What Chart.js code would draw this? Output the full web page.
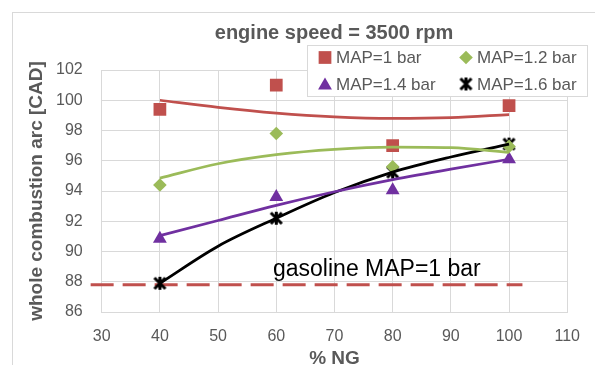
<!DOCTYPE html>
<html>
<head>
<meta charset="utf-8">
<script src="https://cdn.jsdelivr.net/npm/chart.js@4/dist/chart.umd.min.js"></script>
<style>
    html, body { margin: 0; padding: 0; background: #fff; }
    #wrap { position: relative; width: 595px; height: 365px; overflow: hidden; }
    #frame { position: absolute; left: 12px; top: 12px; width: 620px; height: 420px; border: 1px solid #d9d9d9; }
    #chart { position: absolute; left: 0; top: 0; }
</style>
</head>
<body>
<div id="wrap">
    <div id="frame"></div>
    <canvas id="chart" width="595" height="365"></canvas>
</div>
<script>
// measured points
var ngShare = [40, 60, 80, 100];
var map10 = [99.4, 101.0, 97.0, 99.65];
var map12 = [94.4, 97.8, 95.6, 96.95];
var map14 = [90.85, 93.6, 94.05, 96.1];
var map16 = [87.9, 92.2, 95.25, 97.1];

// trend lines, every 10 %
var trendX = [40, 50, 60, 70, 80, 90, 100];
var trend10 = [100.0, 99.53, 99.15, 98.9, 98.8, 98.85, 99.05];
var trend12 = [94.85, 95.8, 96.4, 96.75, 96.9, 96.86, 96.55];
var trend14 = [91.05, 92.05, 93.05, 93.95, 94.75, 95.45, 96.1];
var trend16 = [87.9, 90.35, 92.2, 93.9, 95.25, 96.25, 97.1];

// gasoline reference (dashed)
var gasolineX = [28.1, 102.3];
var gasolineY = [87.8, 87.8];

var xTicks = { min: 30, max: 110, step: 10 };
var yTicks = { min: 86, max: 102, step: 2 };

var labels = ['MAP=1 bar', 'MAP=1.2 bar', 'MAP=1.4 bar', 'MAP=1.6 bar'];

(function () {
    var RED = '#C0504D', GREEN = '#9BBB59', PURPLE = '#7030A0', BLACK = '#000000';
    var GRAY = '#595959', GRID = '#d9d9d9';
    var FONT = "'Liberation Sans', Arial, sans-serif";

    function pts(xs, ys) {
        return xs.map(function (x, i) { return { x: x, y: ys[i] }; });
    }

    // excel style "star": X plus a vertical bar
    function makeStar() {
        var c = document.createElement('canvas');
        c.width = 15;
        c.height = 15;
        var g = c.getContext('2d');
        g.strokeStyle = BLACK;
        g.lineWidth = 3;
        g.beginPath();
        g.moveTo(2, 2); g.lineTo(13, 13);
        g.moveTo(13, 2); g.lineTo(2, 13);
        g.moveTo(7.5, 1); g.lineTo(7.5, 14);
        g.stroke();
        return c;
    }
    var star = makeStar();

    function markers(label, ys, color, style, radius) {
        return {
            label: label,
            data: pts(ngShare, ys),
            showLine: false,
            pointStyle: style,
            pointRadius: radius,
            pointBackgroundColor: color,
            pointBorderColor: color,
            pointBorderWidth: 0,
            order: 2
        };
    }

    function trend(ys, color) {
        return {
            label: '',
            data: pts(trendX, ys),
            showLine: true,
            borderColor: color,
            borderWidth: 2.75,
            pointRadius: 0,
            cubicInterpolationMode: 'monotone',
            order: 1
        };
    }

    var datasets = [
        trend(trend10, RED),
        trend(trend12, GREEN),
        trend(trend14, PURPLE),
        trend(trend16, BLACK),
        markers(labels[0], map10, RED, 'rect', 9),
        markers(labels[1], map12, GREEN, 'rectRot', 6.8),
        markers(labels[2], map14, PURPLE, 'triangle', 8),
        markers(labels[3], map16, BLACK, star, 7),
        {
            label: '',
            data: pts(gasolineX, gasolineY),
            showLine: true,
            borderColor: RED,
            borderWidth: 3,
            borderDash: [23, 9],
            pointRadius: 0,
            clip: false,
            order: 3
        }
    ];

    var decor = {
        id: 'decor',
        afterDraw: function (chart) {
            var ctx = chart.ctx;
            ctx.save();

            // title
            ctx.fillStyle = GRAY;
            ctx.font = 'bold 20px ' + FONT;
            ctx.textAlign = 'center';
            ctx.textBaseline = 'alphabetic';
            ctx.fillText('engine speed = 3500 rpm', 334, 38.5);

            // annotation
            ctx.fillStyle = '#000';
            ctx.font = '23px ' + FONT;
            ctx.textAlign = 'left';
            ctx.fillText('gasoline MAP=1 bar', 273, 276);

            // legend box
            ctx.fillStyle = '#fff';
            ctx.fillRect(307, 45, 281, 52);
            ctx.strokeStyle = GRID;
            ctx.lineWidth = 1;
            ctx.strokeRect(307.5, 45.5, 280, 51);

            var cols = [325, 466], texts = [336, 477], rows = [57.5, 84];
            ctx.font = '17px ' + FONT;
            ctx.textBaseline = 'middle';
            for (var i = 4; i < 8; i++) {
                var ds = chart.data.datasets[i];
                var k = i - 4, cx = cols[k % 2], cy = rows[Math.floor(k / 2)];
                ctx.fillStyle = ds.pointBackgroundColor;
                ctx.strokeStyle = ds.pointBorderColor;
                var yy = ds.pointStyle === 'triangle' ? cy + 1.5 : cy;
                Chart.helpers.drawPoint(ctx, {
                    pointStyle: ds.pointStyle,
                    radius: ds.pointRadius,
                    borderWidth: 0,
                    rotation: 0
                }, cx, yy);
                ctx.fillStyle = GRAY;
                ctx.fillText(ds.label, texts[k % 2], cy + 1);
            }
            ctx.restore();
        }
    };

    new Chart(document.getElementById('chart'), {
        type: 'scatter',
        data: { datasets: datasets },
        options: {
            responsive: false,
            animation: false,
            events: [],
            layout: { padding: { left: 25, right: 27, top: 70, bottom: 0 } },
            plugins: {
                legend: { display: false },
                title: { display: false },
                tooltip: { enabled: false }
            },
            scales: {
                x: {
                    type: 'linear',
                    min: xTicks.min,
                    max: xTicks.max,
                    afterFit: function (s) { s.height = 53; },
                    ticks: { stepSize: xTicks.step, color: GRAY, padding: 15, font: { family: FONT, size: 16 } },
                    grid: { color: GRID, drawTicks: false },
                    border: { color: GRID },
                    title: {
                        display: true,
                        text: '% NG',
                        color: GRAY,
                        padding: 0,
                        font: { family: FONT, size: 19, weight: 'bold', lineHeight: 0.7 }
                    }
                },
                y: {
                    min: yTicks.min,
                    max: yTicks.max,
                    afterFit: function (s) { s.width = 76.7; },
                    ticks: { stepSize: yTicks.step, color: GRAY, padding: 19, font: { family: FONT, size: 16 } },
                    grid: { color: GRID, drawTicks: false },
                    border: { color: GRID },
                    title: {
                        display: true,
                        text: 'whole combustion arc [CAD]',
                        color: GRAY,
                        padding: 0,
                        font: { family: FONT, size: 19, weight: 'bold', lineHeight: 1.2 }
                    }
                }
            }
        },
        plugins: [decor]
    });
})();
</script>
</body>
</html>
